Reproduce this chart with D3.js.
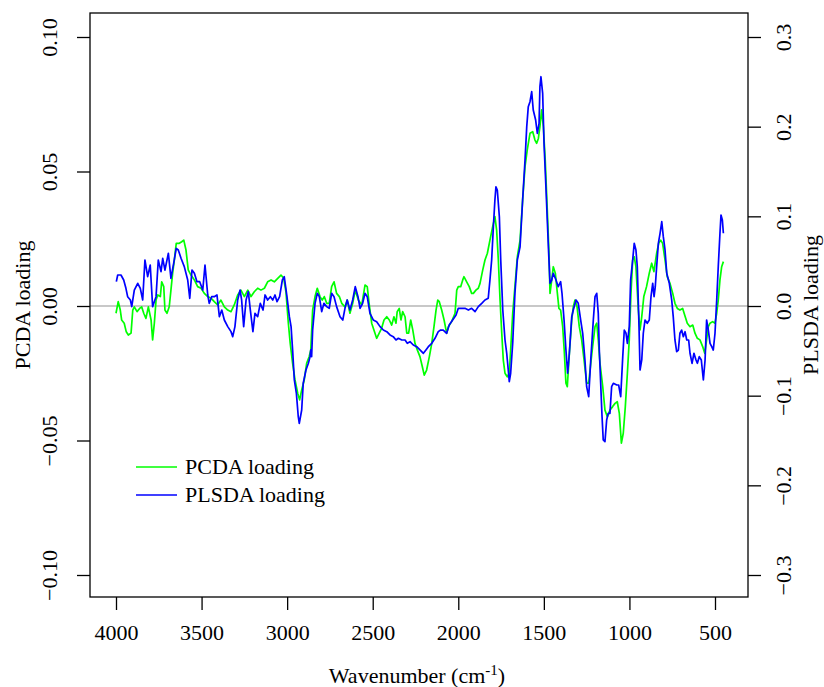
<!DOCTYPE html>
<html><head><meta charset="utf-8">
<script src="https://cdn.jsdelivr.net/npm/d3@7"></script>
<style>
html,body{margin:0;padding:0;background:#fff;}
svg{display:block;}
svg text{font-family:"Liberation Serif","Times New Roman",Times,"DejaVu Serif",serif !important;fill:#000;}
</style></head>
<body>
<svg id="chart" width="824" height="687"></svg>
<script>
// ---- data ----
const xTicks = [4000, 3500, 3000, 2500, 2000, 1500, 1000, 500];
const leftTicks = [-0.10, -0.05, 0.00, 0.05, 0.10];
const leftTickLabels = ["\u22120.10", "\u22120.05", "0.00", "0.05", "0.10"];
const rightTicks = [-0.3, -0.2, -0.1, 0.0, 0.1, 0.2, 0.3];
const rightTickLabels = ["\u22120.3", "\u22120.2", "\u22120.1", "0.0", "0.1", "0.2", "0.3"];
const seriesNames = ["PCDA loading", "PLSDA loading"];
const seriesColors = ["#00ff00", "#0000ff"];

const pcdaWn = [4000,3987,3975,3967,3952,3940,3928,3912,3902,3893,3877,3862,3850,3838,3825,3811,3795,3786,3776,3766,3756,3741,3733,3721,3714,3702,3689,3679,3669,3659,3648,3630,3616,3604,3591,3578,3562,3542,3523,3503,3484,3464,3445,3426,3406,3387,3367,3347,3328,3309,3289,3270,3250,3230,3211,3192,3172,3153,3133,3114,3094,3075,3055,3036,3020,3007,2993,2982,2968,2954,2938,2927,2915,2900,2886,2871,2862,2851,2837,2824,2808,2795,2783,2769,2754,2740,2726,2711,2695,2681,2662,2649,2633,2617,2602,2584,2564,2545,2532,2520,2506,2493,2477,2462,2448,2434,2418,2403,2389,2376,2364,2357,2345,2335,2325,2311,2301,2290,2278,2266,2253,2239,2224,2210,2199,2185,2169,2155,2142,2130,2120,2111,2097,2083,2068,2058,2039,2019,2009,2000,1986,1974,1967,1951,1936,1922,1912,1897,1883,1873,1857,1844,1830,1815,1799,1786,1776,1766,1756,1746,1737,1727,1714,1702,1694,1682,1669,1655,1639,1624,1610,1597,1581,1565,1552,1542,1532,1523,1513,1503,1492,1480,1470,1464,1454,1445,1433,1421,1412,1402,1390,1381,1371,1363,1351,1337,1328,1318,1306,1293,1279,1265,1250,1238,1230,1215,1201,1191,1182,1172,1156,1143,1129,1114,1098,1084,1071,1059,1047,1036,1024,1012,1001,991,981,972,962,948,938,928,916,900,884,870,857,841,829,817,806,792,779,763,747,734,720,705,689,674,662,646,630,617,603,588,572,560,549,539,529,514,500,490,481,471,461,451];
const pcdaVal = [-0.0027,0.0016,-0.0015,-0.0052,-0.0064,-0.0096,-0.0108,-0.0101,-0.0015,-0.0003,-0.0021,-0.0009,-0.0003,-0.0027,-0.0046,-0.0003,-0.0052,-0.0126,-0.0064,0.0022,0.0041,0.0035,0.009,0.0072,-0.0015,-0.0027,-0.0003,0.0059,0.0122,0.0171,0.0233,0.0233,0.0239,0.0245,0.0208,0.0134,0.0115,0.0097,0.0072,0.0066,0.0047,0.0035,0.0029,0.0016,0.0004,0.0022,-0.0003,-0.0015,-0.0021,0.0004,0.0041,0.0059,0.0035,0.0059,0.0035,0.0053,0.0066,0.0059,0.0066,0.009,0.0097,0.009,0.0103,0.0115,0.0103,0.0053,-0.0064,-0.0139,-0.0213,-0.0275,-0.0325,-0.0349,-0.0312,-0.0275,-0.0213,-0.0188,-0.0164,-0.0015,0.0035,0.0066,0.0035,0.0022,0.0035,0.001,0.001,0.0072,0.009,0.0047,0.0035,0.001,-0.0003,0.0022,-0.0027,0.001,0.0059,0.0022,0.0004,0.0078,0.0072,0.0004,-0.0064,-0.0089,-0.012,-0.0101,-0.0083,-0.0052,-0.004,-0.0052,-0.0071,-0.004,-0.0064,-0.0021,-0.0009,-0.0052,-0.0021,-0.004,-0.0101,-0.0101,-0.0052,-0.0089,-0.0139,-0.0164,-0.0188,-0.0226,-0.0257,-0.0238,-0.0188,-0.0139,-0.0077,-0.0015,0.0022,0.0016,-0.0015,-0.0052,-0.0101,-0.0077,-0.0058,-0.0027,0.0059,0.0072,0.0072,0.0097,0.0109,0.009,0.0072,0.0047,0.0047,0.0059,0.0066,0.0084,0.0134,0.0171,0.0196,0.0245,0.0295,0.0332,0.0283,0.0171,0.0022,-0.0101,-0.0201,-0.025,-0.0263,-0.025,-0.0164,-0.0027,0.0072,0.0183,0.0245,0.0394,0.0518,0.058,0.0642,0.0648,0.0617,0.0605,0.0623,0.0667,0.0729,0.0667,0.0543,0.0357,0.0196,0.0047,0.0097,0.0146,0.0122,0.0047,-0.0009,-0.0015,-0.0077,-0.0164,-0.0287,-0.03,-0.0176,-0.0052,-0.0003,0.0022,-0.0003,-0.0077,-0.0126,-0.0201,-0.0287,-0.0287,-0.0238,-0.0151,-0.0077,-0.0064,-0.0126,-0.0213,-0.03,-0.0387,-0.0412,-0.0387,-0.0374,-0.0362,-0.0356,-0.0399,-0.051,-0.0473,-0.0374,-0.025,-0.0126,0.0047,0.0171,0.0183,0.0146,-0.0015,-0.0089,-0.004,0.0035,0.0072,0.0122,0.0159,0.0128,0.0196,0.0233,0.0245,0.0233,0.0171,0.0109,0.0084,0.0047,0.001,-0.0009,-0.0015,-0.0009,-0.004,-0.0064,-0.0077,-0.0071,-0.0101,-0.012,-0.0126,-0.0151,-0.0176,-0.0126,-0.0077,-0.0064,-0.0058,-0.0064,-0.0027,0.0022,0.0097,0.0146,0.0165];

const plsdaWn = [3998,3990,3971,3955,3942,3932,3916,3908,3893,3873,3858,3844,3831,3815,3800,3786,3766,3753,3737,3727,3714,3694,3679,3663,3648,3636,3620,3601,3581,3569,3556,3542,3527,3511,3493,3480,3464,3455,3441,3426,3410,3396,3382,3367,3347,3328,3318,3305,3289,3275,3266,3254,3240,3227,3215,3200,3188,3172,3157,3141,3129,3114,3098,3084,3071,3059,3044,3028,3017,3001,2987,2977,2968,2958,2946,2935,2929,2915,2906,2890,2876,2866,2862,2857,2851,2837,2824,2812,2798,2785,2769,2754,2740,2726,2711,2691,2675,2662,2649,2633,2617,2602,2586,2574,2559,2545,2532,2516,2497,2477,2457,2438,2418,2399,2380,2364,2350,2330,2311,2298,2282,2263,2243,2224,2204,2189,2175,2155,2136,2117,2103,2088,2068,2053,2033,2013,2000,1980,1961,1941,1922,1902,1883,1863,1844,1825,1815,1805,1795,1786,1780,1772,1760,1752,1740,1727,1717,1708,1702,1694,1682,1669,1655,1639,1624,1610,1600,1591,1581,1571,1562,1548,1538,1528,1523,1517,1507,1499,1488,1480,1472,1464,1454,1445,1429,1416,1402,1394,1382,1371,1361,1351,1337,1328,1312,1299,1285,1273,1260,1250,1238,1226,1211,1201,1191,1182,1176,1168,1160,1153,1143,1133,1124,1114,1104,1094,1074,1063,1051,1039,1030,1020,1012,1001,993,981,972,962,954,944,938,928,919,909,896,884,874,864,856,849,841,831,821,811,802,792,782,767,753,744,734,724,714,705,695,685,675,665,654,646,634,623,611,603,592,580,568,558,549,539,529,519,510,500,490,481,471,465,457,451];
const plsdaVal = [0.0271,0.0346,0.0346,0.029,0.0197,0.0104,0.0067,-0.0007,0.0178,0.0253,0.0197,0.0067,0.0513,0.0327,0.0457,-0.0007,0.0104,0.0513,0.0383,0.0532,0.0401,0.0588,0.0309,0.0476,0.0643,0.0625,0.0532,0.0439,0.029,0.0086,0.0401,0.0364,0.0271,0.0271,0.0178,0.0457,0.0123,0.003,0.0104,0.0104,0.0123,-0.0119,-0.0045,-0.0156,-0.023,-0.0286,-0.0342,-0.023,0.0067,0.0178,0.0067,-0.023,0.0067,0.016,-0.0045,-0.0286,-0.0082,-0.0119,0.003,-0.0045,0.0123,0.0067,0.0104,0.0067,0.0123,0.0048,0.0104,0.029,0.0327,0.0104,-0.0119,-0.023,-0.0491,-0.0825,-0.0974,-0.1235,-0.131,-0.116,-0.0862,-0.0714,-0.0639,-0.0565,-0.049,-0.0565,-0.0268,0.003,0.0142,0.0104,-0.0063,0.003,-0.0007,-0.0026,0.0142,0.0104,-0.0007,-0.0119,-0.0156,-0.0026,0.0067,-0.0045,0.0067,0.0216,0.0104,-0.0026,0.003,0.0142,0.0104,-0.0082,-0.0156,-0.0175,-0.023,-0.0268,-0.0286,-0.0323,-0.0342,-0.0379,-0.036,-0.0379,-0.0379,-0.0416,-0.0398,-0.0435,-0.0454,-0.049,-0.0528,-0.049,-0.0454,-0.0416,-0.036,-0.0286,-0.0268,-0.0268,-0.0305,-0.0212,-0.0156,-0.01,-0.0026,-0.0026,-0.0026,-0.0045,-0.0026,-0.0063,-0.0007,0.003,0.0067,0.0086,0.029,0.0513,0.0884,0.1182,0.133,0.1294,0.0996,0.0513,-0.0045,-0.0379,-0.0527,-0.0714,-0.0844,-0.075,-0.0416,0.0142,0.0513,0.0661,0.1182,0.1628,0.2,0.2223,0.2278,0.239,0.2186,0.2074,0.1926,0.2037,0.2446,0.2557,0.2372,0.1814,0.133,0.0959,0.0588,0.0253,0.029,0.0365,0.029,0.0215,0.0271,0.0142,-0.0156,-0.0491,-0.075,-0.0527,-0.0119,-0.0045,0.0067,0.003,-0.0156,-0.0304,-0.0602,-0.09,-0.1011,-0.0602,-0.0156,0.0104,0.0142,-0.0082,-0.0491,-0.0862,-0.1234,-0.1494,-0.1513,-0.1271,-0.1197,-0.1197,-0.09,-0.0862,-0.0881,-0.0881,-0.1011,-0.0565,-0.0268,-0.0304,-0.0416,-0.0231,0.029,0.0513,0.0699,0.0625,0.0438,-0.0231,-0.0714,-0.0602,-0.0304,-0.0156,-0.0193,-0.0156,0.0104,0.0253,0.0104,0.0215,0.0438,0.0699,0.0811,0.094,0.0773,0.0625,0.0365,0.0253,0.0067,-0.0119,-0.0379,-0.051,-0.0491,-0.0304,-0.0268,-0.0342,-0.0287,-0.0379,-0.0379,-0.0527,-0.0639,-0.0527,-0.0602,-0.0639,-0.0565,-0.0602,-0.0825,-0.0602,-0.0156,-0.0268,-0.0416,-0.0454,-0.0491,-0.0304,0.0067,0.0438,0.0811,0.1015,0.0959,0.0811];

// ---- layout ----
const box = {left: 90, right: 748, top: 13, bottom: 597};
const svg = d3.select("#chart");
const FS = 22;
const FONT = '"Liberation Serif","Times New Roman",Times,"DejaVu Serif",serif';

const x = d3.scaleLinear().domain([4000, 500]).range([116, 715]);
const yL = d3.scaleLinear().domain([-0.10, 0.10]).range([575, 37]);
const yR = d3.scaleLinear().domain([-0.3, 0.3]).range([575, 37]);

// zero reference line
svg.append("line")
  .attr("x1", box.left).attr("x2", box.right)
  .attr("y1", yL(0)).attr("y2", yL(0))
  .attr("stroke", "#c8c8c8").attr("stroke-width", 2);

const pcda = pcdaWn.map((w, i) => [w, pcdaVal[i]]);
const plsda = plsdaWn.map((w, i) => [w, plsdaVal[i]]);

svg.append("path").datum(pcda)
  .attr("d", d3.line().x(d => x(d[0])).y(d => yL(d[1])))
  .attr("fill", "none").attr("stroke", seriesColors[0]).attr("stroke-width", 1.7)
  .attr("stroke-linejoin", "round");
svg.append("path").datum(plsda)
  .attr("d", d3.line().x(d => x(d[0])).y(d => yR(d[1])))
  .attr("fill", "none").attr("stroke", seriesColors[1]).attr("stroke-width", 1.7)
  .attr("stroke-linejoin", "round");

// box
svg.append("rect")
  .attr("x", box.left).attr("y", box.top)
  .attr("width", box.right - box.left).attr("height", box.bottom - box.top)
  .attr("fill", "none").attr("stroke", "#000").attr("stroke-width", 1.3);

// axes
const TL = 13;
function styleText(sel) {
  sel.attr("font-size", FS).style("font-family", FONT).style("font-size", FS + "px").attr("fill", "#000");
}
const gx = svg.append("g").attr("transform", `translate(0,${box.bottom})`)
  .call(d3.axisBottom(x).tickValues(xTicks).tickSize(TL).tickFormat(d3.format("d")));
gx.attr("font-family", null).attr("font-size", null);
gx.select(".domain").remove();
gx.selectAll("line").attr("stroke", "#000").attr("stroke-width", 1.3);
gx.selectAll("text").attr("y", 43).attr("dy", 0).call(styleText);

const gl = svg.append("g").attr("transform", `translate(${box.left},0)`)
  .call(d3.axisLeft(yL).tickValues(leftTicks).tickSize(TL)
    .tickFormat((d, i) => leftTickLabels[i]));
gl.attr("font-family", null).attr("font-size", null);
gl.select(".domain").remove();
gl.selectAll("line").attr("stroke", "#000").attr("stroke-width", 1.3);
gl.selectAll("text").attr("x", null).attr("dy", null).attr("y", null)
  .attr("transform", "translate(-33,0) rotate(-90)")
  .attr("text-anchor", "middle").call(styleText);

const gr = svg.append("g").attr("transform", `translate(${box.right},0)`)
  .call(d3.axisRight(yR).tickValues(rightTicks).tickSize(TL)
    .tickFormat((d, i) => rightTickLabels[i]));
gr.attr("font-family", null).attr("font-size", null);
gr.select(".domain").remove();
gr.selectAll("line").attr("stroke", "#000").attr("stroke-width", 1.3);
gr.selectAll("text").attr("x", null).attr("dy", null).attr("y", null)
  .attr("transform", "translate(43,0) rotate(-90)")
  .attr("text-anchor", "middle").call(styleText);

// axis titles
const xt = svg.append("text").attr("x", (box.left + box.right) / 2 - 2).attr("y", 683)
  .attr("text-anchor", "middle").call(styleText);
xt.append("tspan").text("Wavenumber (cm");
xt.append("tspan").text("-1").style("font-size", "15px").attr("dy", -8);
xt.append("tspan").text(")").attr("dy", 8);

svg.append("text").attr("transform", `translate(30,${(box.top + box.bottom) / 2}) rotate(-90)`)
  .attr("text-anchor", "middle").call(styleText).text("PCDA loading");
svg.append("text").attr("transform", `translate(818,${(box.top + box.bottom) / 2}) rotate(-90)`)
  .attr("text-anchor", "middle").call(styleText).text("PLSDA loading");

// legend
const legY = [467, 495];
seriesNames.forEach((name, i) => {
  svg.append("line").attr("x1", 136).attr("x2", 177)
    .attr("y1", legY[i]).attr("y2", legY[i])
    .attr("stroke", seriesColors[i]).attr("stroke-width", 1.7);
  svg.append("text").attr("x", 185).attr("y", legY[i] + 7)
    .call(styleText).text(name);
});
</script>
</body></html>
